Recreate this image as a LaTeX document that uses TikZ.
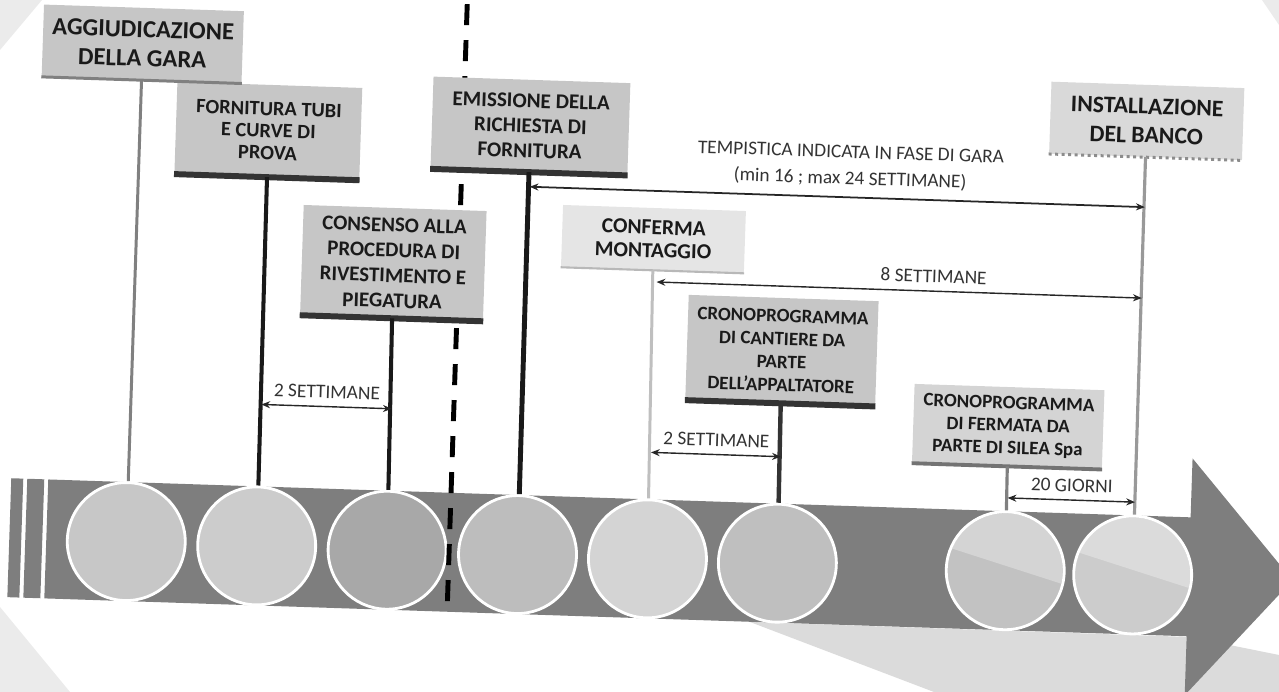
\documentclass[tikz,border=0pt]{standalone}
\usepackage{fontspec}
\setmainfont{Carlito}
\usetikzlibrary{arrows.meta}
\definecolor{bargray}{HTML}{7E7E7E}
\definecolor{boxgray}{HTML}{C6C6C6}
\definecolor{scangray}{HTML}{EBEBEB}
\definecolor{txt}{HTML}{1A1A1A}
\begin{document}
\begin{tikzpicture}[x=0.02cm,y=-0.02cm,>={Stealth[length=5pt,width=4pt]},
	box/.style={fill=boxgray,inner sep=0pt,align=center,text=txt,font=\fontsize{11.8}{13.8}\selectfont\bfseries},
	dot/.style={circle,draw=white,line width=1.6pt,inner sep=0pt,minimum size=2.36cm},
	dim/.style={<->,line width=0.8pt,draw=black!85},
	lab/.style={text=black!80,font=\fontsize{11}{15}\selectfont,align=center}]
	\useasboundingbox (0,0) rectangle (1279,692);
	\clip (0,0) rectangle (1279,692);
	% scan shadows
	\fill[scangray] (0,0) -- (42,0) -- (0,50) -- cycle;
	\fill[scangray] (1262,0) -- (1279,0) -- (1279,25) -- cycle;
	\fill[scangray] (0,607) -- (70,692) -- (0,692) -- cycle;
	\fill[black!14] (750,622) -- (1190,637) -- (1279,655) -- (1279,692) -- (934,692) -- cycle;
	\begin{scope}[rotate around={-1.9:(640,346)},transform shape]
		% time arrow
		\fill[bargray] (16,499) rectangle (28,618);
		\fill[bargray] (32,499) rectangle (49,618);
		\fill[bargray] (53,499) -- (1196,499) -- (1196,440) -- (1300,558.5) -- (1196,677) -- (1196,618) -- (53,618) -- cycle;
		% circles
		\foreach \n/\x/\c in {1/133/black!22,2/263.5/black!20,3/394/black!34,4/524.5/black!26,5/654.5/black!17,6/784.5/black!25,7/1012.5/black!24,8/1140/black!20}
		\node[dot,fill=\c] (c\n) at (\x,558.5) {};
		\foreach \n in {7,8}{
			\begin{scope}
				\clip (c\n.center) circle [radius=1.15cm];
				\fill[white,opacity=0.3] ([shift={(-70,-25)}]c\n.center) -- ([shift={(70,15)}]c\n.center) -- ([shift={(70,-70)}]c\n.center) -- ([shift={(-70,-70)}]c\n.center) -- cycle;
			\end{scope}}
		% dashed separator
		\draw[line width=2.8pt,dash pattern=on 12pt off 8.5pt] (456,10) -- (456,618);
		% milestones
		\node[box,minimum width=4cm,minimum height=1.44cm,font=\fontsize{14}{16.5}\selectfont\bfseries] (aggiud) at (133,60.5) {AGGIUDICAZIONE\\DELLA GARA};
		\node[box,minimum width=3.7cm,minimum height=1.84cm,font=\fontsize{11.6}{12.6}\selectfont\bfseries] (fornit) at (261.4,143.3) {FORNITURA TUBI\\E CURVE DI\\PROVA};
		\node[box,minimum width=3.66cm,minimum height=2.2cm,font=\fontsize{11.9}{14.4}\selectfont\bfseries] (consenso) at (390.7,271.2) {CONSENSO ALLA\\PROCEDURA DI\\RIVESTIMENTO E\\PIEGATURA};
		\node[box,minimum width=3.94cm,minimum height=1.84cm,font=\fontsize{12}{14.2}\selectfont\bfseries] (emiss) at (523.2,129.6) {EMISSIONE DELLA\\RICHIESTA DI\\FORNITURA};
		\node[box,fill=black!10,minimum width=3.66cm,minimum height=1.24cm,font=\fontsize{12.2}{13.2}\selectfont\bfseries] (conferma) at (649.9,238.6) {CONFERMA\\MONTAGGIO};
		\node[box,minimum width=3.8cm,minimum height=2.1cm,font=\fontsize{10.8}{13.1}\selectfont\bfseries] (cantiere) at (782,345.8) {CRONOPROGRAMMA\\DI CANTIERE DA\\PARTE\\DELL’APPALTATORE};
		\node[box,fill=black!15,minimum width=3.86cm,minimum height=1.44cm,font=\fontsize{13.5}{16.5}\selectfont\bfseries] (install) at (1139,104.2) {INSTALLAZIONE\\DEL BANCO};
		\node[box,fill=black!17,minimum width=3.8cm,minimum height=1.58cm,font=\fontsize{10.8}{12.8}\selectfont\bfseries] (fermata) at (1010.7,414.3) {CRONOPROGRAMMA\\DI FERMATA DA\\PARTE DI SILEA Spa};
		% box bottom edges
		\draw[line width=1.7pt,black!50] (aggiud.south west) -- (aggiud.south east);
		\foreach \b in {fornit,consenso,emiss,cantiere}
		\draw[line width=3.4pt,black!80] (\b.south west) -- (\b.south east);
		\draw[line width=1.2pt,black!28] (conferma.south west) -- (conferma.south east);
		\draw[line width=1.7pt,black!45,dotted] (install.south west) -- (install.south east);
		\draw[line width=2.2pt,black!55] (fermata.south west) -- (fermata.south east);
		% stems
		\draw[line width=1.7pt,black!50] (aggiud) -- (c1);
		\draw[line width=2.3pt,black!90] (fornit) -- (c2);
		\draw[line width=2.3pt,black!90] (consenso) -- (c3);
		\draw[line width=2.8pt,black!90] (emiss) -- (c4);
		\draw[line width=1.7pt,black!25] (conferma) -- (c5);
		\draw[line width=2.5pt,black!80] (cantiere) -- (c6);
		\draw[line width=1.8pt,black!50] (fermata) -- (c7);
		\draw[line width=1.8pt,black!40] (install) -- (c8);
		% durations
		\coordinate (d1) at (0,417);
		\coordinate (d2) at (0,190.5);
		\coordinate (d3) at (0,281.5);
		\coordinate (d4) at (0,452);
		\coordinate (d5) at (0,485.7);
		\draw[dim] (c2 |- d1) -- (c3 |- d1) node[midway,above=1pt,lab] {2 SETTIMANE};
		\draw[dim,line width=1pt] (c4 |- d2) -- (c8 |- d2) node[pos=0.52,above=2pt,lab] {TEMPISTICA INDICATA IN FASE DI GARA\\(min 16 ; max 24 SETTIMANE)};
		\draw[dim] (c5 |- d3) -- (c8 |- d3) node[pos=0.57,above=1pt,lab] {8 SETTIMANE};
		\draw[dim] (c5 |- d4) -- (c6 |- d4) node[midway,above=1pt,lab] {2 SETTIMANE};
		\draw[dim] (c7 |- d5) -- (c8 |- d5) node[midway,above=1pt,lab] {20 GIORNI};
	\end{scope}
\end{tikzpicture}
\end{document}
